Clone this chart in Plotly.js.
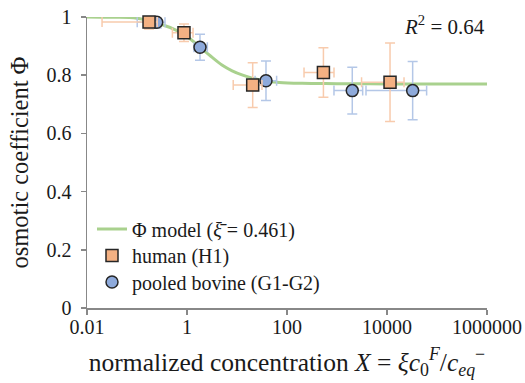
<!DOCTYPE html>
<html>
<head>
<meta charset="utf-8">
<script src="https://cdn.plot.ly/plotly-3.0.1.min.js"></script>
<style>html,body{margin:0;padding:0;background:#fff;}#chart{width:525px;height:383px;}</style>
</head>
<body>
<div id="chart"></div>
<script>
// Model curve
const modelX = [0.01, 0.03, 0.1, 0.3, 0.6, 1, 1.8, 3, 5, 8, 13, 20, 35, 70, 200, 1000, 10000, 100000, 1000000];
const modelPhi = [1.0, 0.999, 0.996, 0.975, 0.955, 0.933, 0.897, 0.865, 0.835, 0.815, 0.800, 0.790, 0.781, 0.775, 0.772, 0.771, 0.770, 0.770, 0.770];

// human (H1)
const humanX = [0.174, 0.87, 20.6, 535, 11500];
const humanPhi = [0.983, 0.946, 0.766, 0.809, 0.776];
const humanErrY = [0.024, 0.03, 0.077, 0.085, 0.135];
const humanErrXPlus = [0.08, 0.45, 11, 336, 10400];
const humanErrXMinus = [0.154, 0.36, 12.2, 316, 8400];

// pooled bovine (G1-G2)
const bovineX = [0.248, 1.82, 38, 2020, 32600];
const bovinePhi = [0.982, 0.896, 0.781, 0.747, 0.747];
const bovineErrY = [0.02, 0.045, 0.068, 0.08, 0.1];
const bovineErrXPlus = [0.115, 0.73, 24, 1240, 29400];
const bovineErrXMinus = [0.147, 0.44, 15, 1150, 28800];

const xTickVals = [0.01, 1, 100, 10000, 1000000];
const xTickText = ['0.01', '1', '100', '10000', '1000000'];
const yTickVals = [0, 0.2, 0.4, 0.6, 0.8, 1];
const yTickText = ['0', '0.2', '0.4', '0.6', '0.8', '1'];

const serif = 'Liberation Serif, serif';
const ink = '#1a1a1a';

const traces = [
  {x: modelX, y: modelPhi, type: 'scatter', mode: 'lines', name: 'Φ model (<i>ξ̄</i> = 0.461)',
   line: {color: '#a9d18e', width: 3, shape: 'spline'}, legend: 'legend'},
  {x: bovineX, y: bovinePhi, type: 'scatter', mode: 'markers', name: 'pooled bovine (G1-G2)',
   marker: {symbol: 'circle', size: 12, color: '#8eaadb', line: {color: '#262626', width: 1.5}},
   error_y: {type: 'data', array: bovineErrY, visible: true, color: '#b4c7e7', thickness: 1.5, width: 5},
   error_x: {type: 'data', array: bovineErrXPlus, arrayminus: bovineErrXMinus, symmetric: false, visible: true, color: '#b4c7e7', thickness: 1.5, width: 5},
   cliponaxis: false, legend: 'legend3'},
  {x: humanX, y: humanPhi, type: 'scatter', mode: 'markers', name: 'human (H1)',
   marker: {symbol: 'square', size: 12, color: '#f4b183', line: {color: '#262626', width: 1.5}},
   error_y: {type: 'data', array: humanErrY, visible: true, color: '#f8cbad', thickness: 1.5, width: 5},
   error_x: {type: 'data', array: humanErrXPlus, arrayminus: humanErrXMinus, symmetric: false, visible: true, color: '#f8cbad', thickness: 1.5, width: 5},
   cliponaxis: false, legend: 'legend2'}
];

function legendAt(yTop) {
  return {x: 0.0125, y: yTop, xanchor: 'left', yanchor: 'top', bgcolor: 'rgba(0,0,0,0)',
          font: {family: serif, size: 20, color: ink}};
}

const layout = {
  width: 525, height: 383, margin: {l: 87, r: 38, t: 17, b: 75},
  paper_bgcolor: '#ffffff', plot_bgcolor: '#ffffff',
  font: {family: serif, size: 20, color: ink}, showlegend: true,
  legend: legendAt(0.3385),
  legend2: legendAt(0.2474),
  legend3: legendAt(0.1564),
  xaxis: {type: 'log', range: [-2, 6], tickmode: 'array', tickvals: xTickVals, ticktext: xTickText,
    ticks: 'outside', ticklen: 5, tickwidth: 1.5, tickcolor: '#888888', showline: true, linecolor: '#888888', linewidth: 1.5,
    showgrid: false, zeroline: false, tickfont: {family: serif, size: 20, color: ink}, ticklabelstandoff: -5,
    title: {text: 'normalized concentration <i>X</i> = <i>ξc</i><sub>0</sub><sup><i>F</i></sup>/<i>c</i><sub><i>eq</i></sub><sup>−</sup>',
      font: {family: serif, size: 25.5, color: ink}, standoff: 16}},
  yaxis: {range: [0, 1], tickmode: 'array', tickvals: yTickVals, ticktext: yTickText,
    ticks: 'outside', ticklen: 5, tickwidth: 1.5, tickcolor: '#888888', showline: true, linecolor: '#888888', linewidth: 1.5,
    showgrid: false, zeroline: false, tickfont: {family: serif, size: 20, color: ink}, ticklabelstandoff: 5,
    title: {text: 'osmotic coefficient Φ', font: {family: serif, size: 24.5, color: ink}, standoff: 11}},
  annotations: [{xref: 'paper', yref: 'paper', x: 1.0, y: 0.97, xanchor: 'right', yanchor: 'middle',
    text: '<i>R</i><sup>2</sup> = 0.64', showarrow: false, font: {family: serif, size: 21, color: ink}}]
};

Plotly.newPlot('chart', traces, layout, {displayModeBar: false, staticPlot: true});
</script>
</body>
</html>
